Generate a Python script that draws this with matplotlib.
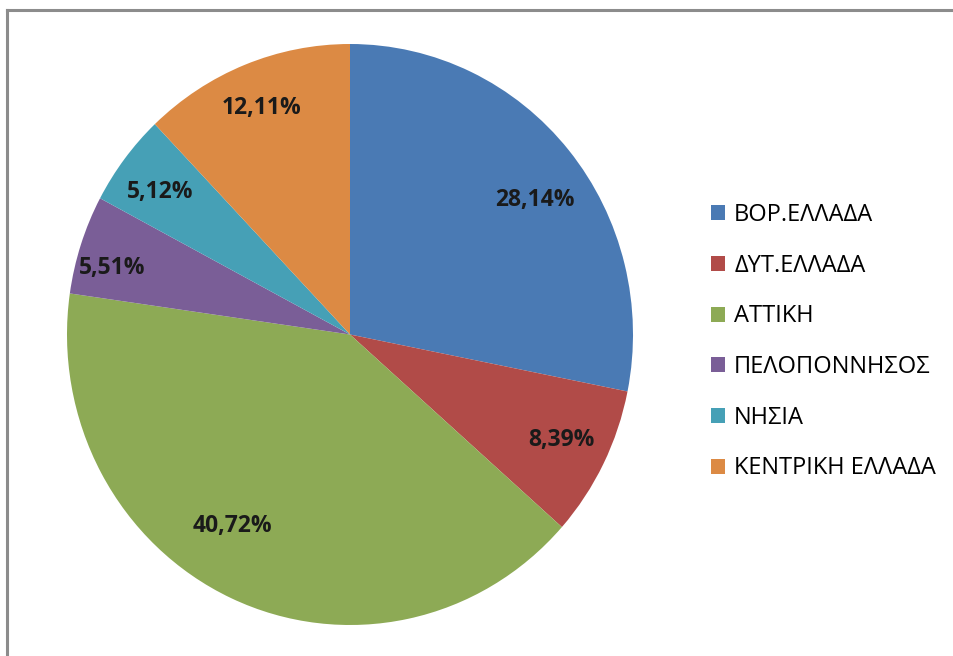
import matplotlib
matplotlib.use("Agg")
import matplotlib.pyplot as plt
from matplotlib.patches import Patch
from matplotlib.lines import Line2D
import numpy as np

categories = ["ΒΟΡ.ΕΛΛΑΔΑ", "ΔΥΤ.ΕΛΛΑΔΑ", "ΑΤΤΙΚΗ", "ΠΕΛΟΠΟΝΝΗΣΟΣ", "ΝΗΣΙΑ", "ΚΕΝΤΡΙΚΗ ΕΛΛΑΔΑ"]
values = [28.14, 8.39, 40.72, 5.51, 5.12, 12.11]
labels = ["28,14%", "8,39%", "40,72%", "5,51%", "5,12%", "12,11%"]
colors = ["#4A7AB4", "#B14B48", "#8DAA55", "#7A5E97", "#46A0B6", "#DC8A44"]

# label placement (layout only)
label_r = [0.80, 0.83, 0.78, 0.87, 0.83, 0.84]
label_da = [-4, 0.5, -7.5, 2.8, 1, 0]

plt.rcParams['font.family'] = ['Open Sans', 'DejaVu Sans']

W, H = 954, 656
fig = plt.figure(figsize=(W / 100, H / 100), dpi=100)

# outer border (left and top visible)
bx, by = 7.5 / W, 1 - 10 / H
fig.add_artist(Line2D([bx, bx], [-0.1, by], transform=fig.transFigure,
                      color="#8C8C8C", linewidth=2.2, solid_capstyle="projecting"))
fig.add_artist(Line2D([bx, 1.1], [by, by], transform=fig.transFigure,
                      color="#8C8C8C", linewidth=2.2, solid_capstyle="projecting"))

left, right, top, bottom = 67, 633, 44, 625
ax = fig.add_axes([left / W, (H - bottom) / H, (right - left) / W, (bottom - top) / H])
wedges, _ = ax.pie(values, colors=colors, startangle=90, counterclock=False,
                   radius=1.0, wedgeprops=dict(linewidth=0))
ax.set_xlim(-1, 1)
ax.set_ylim(-1, 1)
ax.set_aspect("auto")
ax.axis("off")

for w, lab, r, da in zip(wedges, labels, label_r, label_da):
    ang = np.deg2rad((w.theta1 + w.theta2) / 2 + da)
    ax.text(r * np.cos(ang), r * np.sin(ang), lab, ha="center", va="center",
            fontsize=16.5, fontweight="bold", color="#1a1a1a")

handles = [Patch(facecolor=c, edgecolor="none") for c in colors]
fig.legend(handles, categories, loc="upper left",
           bbox_to_anchor=(711 / W, 1 - 203 / H), frameon=False,
           fontsize=17, handlelength=0.6, handleheight=0.6,
           handletextpad=0.38, labelspacing=1.13, borderpad=0, borderaxespad=0)

fig.savefig("out.png", dpi=100)
